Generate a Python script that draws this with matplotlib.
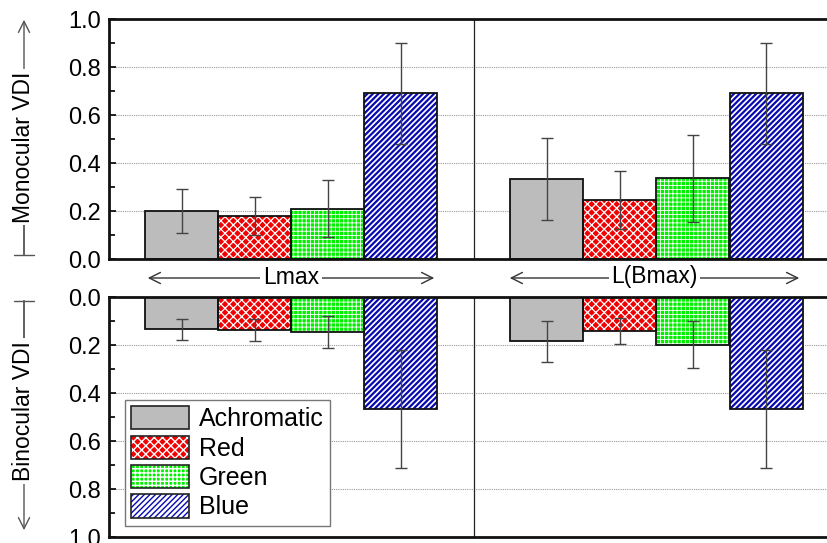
import matplotlib.pyplot as plt
from matplotlib.patches import Patch
from matplotlib.ticker import MultipleLocator, FormatStrFormatter

plt.rcParams['font.family'] = ['Liberation Sans', 'DejaVu Sans']

groups = ['Lmax', 'L(Bmax)']
colour_names = ['Achromatic', 'Red', 'Green', 'Blue']

# monocular VDI, one list per group (Achromatic, Red, Green, Blue)
mono_lmax = [0.20, 0.18, 0.21, 0.69]
mono_lmax_err = [0.09, 0.08, 0.12, 0.21]
mono_lbmax = [0.333, 0.247, 0.336, 0.69]
mono_lbmax_err = [0.17, 0.12, 0.18, 0.21]

# binocular VDI
bino_lmax = [0.135, 0.137, 0.146, 0.465]
bino_lmax_err = [0.045, 0.046, 0.065, 0.246]
bino_lbmax = [0.185, 0.143, 0.198, 0.465]
bino_lbmax_err = [0.084, 0.054, 0.099, 0.246]

# face colour, hatch colour, hatch, hatch line width
styles = [('#bcbcbc', '#bcbcbc', '', 1.0),
          ('#f00000', 'white', 'xxxx', 0.9),
          ('#00f000', 'white', '++++', 0.6),
          ('white', '#0808b0', '//////', 1.6)]

W, H = 827, 543
fig = plt.figure(figsize=(W / 100, H / 100), dpi=100)


def fx(px):
    return px / W


def fy(py):
    return 1 - py / H


ax_top = fig.add_axes([fx(109), fy(259), fx(730), 240 / H])
ax_bot = fig.add_axes([fx(109), fy(537), fx(730), 240 / H])

offsets = [-0.3, -0.1, 0.1, 0.3]
bw = 0.2


def draw_panel(ax, means, errs):
    for g, (vals, ev) in enumerate(zip(means, errs)):
        for i, (v, e) in enumerate(zip(vals, ev)):
            x = g + offsets[i]
            face, hcol, hatch, hlw = styles[i]
            with plt.rc_context({'hatch.linewidth': hlw}):
                ax.bar(x, v, bw, color=face, edgecolor=hcol, hatch=hatch,
                       linewidth=0, zorder=2)
            ax.bar(x, v, bw, fill=False, edgecolor='#111111',
                   linewidth=1.3, zorder=3)
            ax.errorbar(x, v, yerr=e, fmt='none', ecolor='#444444',
                        elinewidth=1, capsize=4, capthick=1, zorder=4)
    ax.set_xlim(-0.5, 1.5)
    ax.set_xticks([])
    ax.axvline(0.5, color='#222222', lw=0.9, zorder=1)
    ax.yaxis.set_major_locator(MultipleLocator(0.2))
    ax.yaxis.set_minor_locator(MultipleLocator(0.1))
    ax.yaxis.set_major_formatter(FormatStrFormatter('%.1f'))
    ax.tick_params(axis='y', which='both', direction='in', labelsize=17,
                   width=1.2, pad=6)
    ax.tick_params(axis='y', which='major', length=5)
    ax.tick_params(axis='y', which='minor', length=4)
    for s in ax.spines.values():
        s.set_linewidth(2)
        s.set_color('#111111')
    for yv in [0.2, 0.4, 0.6, 0.8]:
        ax.axhline(yv, color='#999999', lw=0.8, ls=(0, (1, 1)), zorder=0.5)


draw_panel(ax_top, [mono_lmax, mono_lbmax], [mono_lmax_err, mono_lbmax_err])
ax_top.set_ylim(0, 1.0)

draw_panel(ax_bot, [bino_lmax, bino_lbmax], [bino_lmax_err, bino_lbmax_err])
ax_bot.set_ylim(1.0, 0)

# legend: hatched fill with a black outline on top
handles = []
for face, hcol, hatch, hlw in styles:
    with plt.rc_context({'hatch.linewidth': hlw}):
        fill = Patch(facecolor=face, edgecolor=hcol, hatch=hatch, linewidth=0)
    edge = Patch(fill=False, edgecolor='#222222', linewidth=1.2)
    handles.append((fill, edge))
leg = ax_bot.legend(handles, colour_names, loc='upper left',
                    bbox_to_anchor=(0.022, 0.571), borderaxespad=0,
                    fontsize=18, handlelength=2.3, handleheight=1.05,
                    labelspacing=0.17, handletextpad=0.4, borderpad=0.25,
                    fancybox=False, framealpha=1, edgecolor='#777777')
leg.get_frame().set_linewidth(1)
leg.set_zorder(5)

# group labels between the panels
arrow_kw = dict(arrowstyle='<->,head_length=0.5,head_width=0.25',
                color='#333333', lw=1, mutation_scale=16)
for name, (x0, x1) in zip(groups, [(145, 437), (507, 802)]):
    fig.add_artist(plt.Annotation('', xy=(fx(x1), fy(278)),
                                  xytext=(fx(x0), fy(278)),
                                  xycoords='figure fraction',
                                  arrowprops=arrow_kw))
    fig.text(fx((x0 + x1) / 2), fy(277), name, ha='center', va='center',
             fontsize=16.5, bbox=dict(fc='white', ec='none', pad=2))

# y-axis titles with direction arrows (flat cap at the zero end)
head_kw = dict(arrowstyle='->,head_length=0.5,head_width=0.25',
               color='#555555', lw=1, mutation_scale=16)
cap_kw = dict(arrowstyle=']-,widthA=0.45,lengthA=0',
              color='#555555', lw=1, mutation_scale=16)
for tip, base in [(17, 258), (533, 298)]:
    fig.add_artist(plt.Annotation('', xy=(fx(24), fy(tip)),
                                  xytext=(fx(24), fy(base)),
                                  xycoords='figure fraction',
                                  arrowprops=head_kw))
    fig.add_artist(plt.Annotation('', xy=(fx(24), fy((tip + base) / 2)),
                                  xytext=(fx(24), fy(base)),
                                  xycoords='figure fraction',
                                  arrowprops=cap_kw))
fig.text(fx(24), fy(147), 'Monocular VDI', rotation=90, ha='center',
         va='center', fontsize=16.5, bbox=dict(fc='white', ec='none', pad=2))
fig.text(fx(24), fy(411), 'Binocular VDI', rotation=90, ha='center',
         va='center', fontsize=16.5, bbox=dict(fc='white', ec='none', pad=2))

fig.savefig('out.png', dpi=100)
